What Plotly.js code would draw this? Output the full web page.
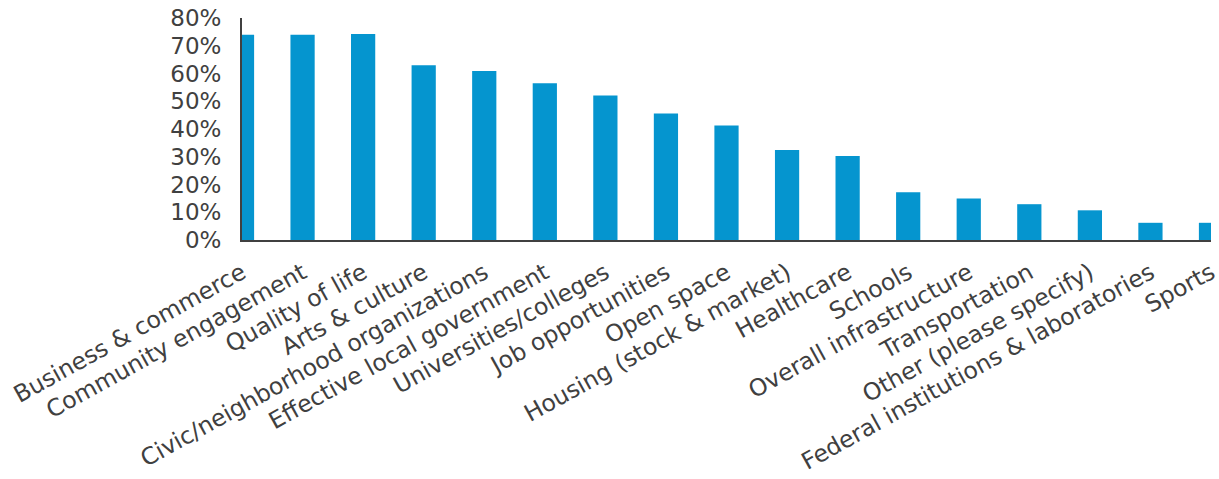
<!DOCTYPE html>
<html>
<head>
<meta charset="utf-8">
<script src="https://cdn.plot.ly/plotly-3.0.1.min.js"></script>
<style>html,body{margin:0;padding:0;background:#fff;}#chart{width:1219px;height:479px;}</style>
</head>
<body>
<div id="chart"></div>
<script>
const categories = [
  "Business & commerce", "Community engagement", "Quality of life", "Arts & culture",
  "Civic/neighborhood organizations", "Effective local government", "Universities/colleges",
  "Job opportunities", "Open space", "Housing (stock & market)", "Healthcare", "Schools",
  "Overall infrastructure", "Transportation", "Other (please specify)",
  "Federal institutions & laboratories", "Sports"
];
const values = [0.740, 0.740, 0.742, 0.630, 0.609, 0.565, 0.521, 0.456, 0.413, 0.324, 0.303, 0.172, 0.150, 0.129, 0.107, 0.062, 0.062];
const yTickVals = [0, 0.1, 0.2, 0.3, 0.4, 0.5, 0.6, 0.7, 0.8];

const fontFam = "'DejaVu Sans', sans-serif";
Plotly.newPlot('chart', [{
  type: 'bar',
  x: categories,
  y: values,
  marker: {color: '#0595cf', line: {width: 0}},
  cliponaxis: true,
  hoverinfo: 'none'
}], {
  width: 1219, height: 479,
  margin: {l: 242, r: 8, t: 18, b: 239, pad: 0},
  paper_bgcolor: '#fff', plot_bgcolor: '#fff',
  bargap: 0.6,
  showlegend: false,
  font: {family: fontFam, color: '#404040', size: 20},
  xaxis: {
    type: 'category',
    range: [0, 16],
    tickangle: -29,
    automargin: false,
    showline: true, linecolor: '#404040', linewidth: 2,
    ticks: 'outside', ticklen: 8, tickcolor: 'rgba(0,0,0,0)',
    showgrid: false, zeroline: false,
    tickfont: {family: fontFam, size: 23.5, color: '#404040'}
  },
  yaxis: {
    range: [0, 0.8],
    tickvals: yTickVals,
    tickformat: '.0%',
    automargin: false,
    showline: true, linecolor: '#404040', linewidth: 2,
    ticks: 'outside', ticklen: 14, tickcolor: 'rgba(0,0,0,0)',
    showgrid: false, zeroline: false,
    tickfont: {family: fontFam, size: 23, color: '#404040'}
  }
}, {displayModeBar: false, staticPlot: true});
</script>
</body>
</html>
